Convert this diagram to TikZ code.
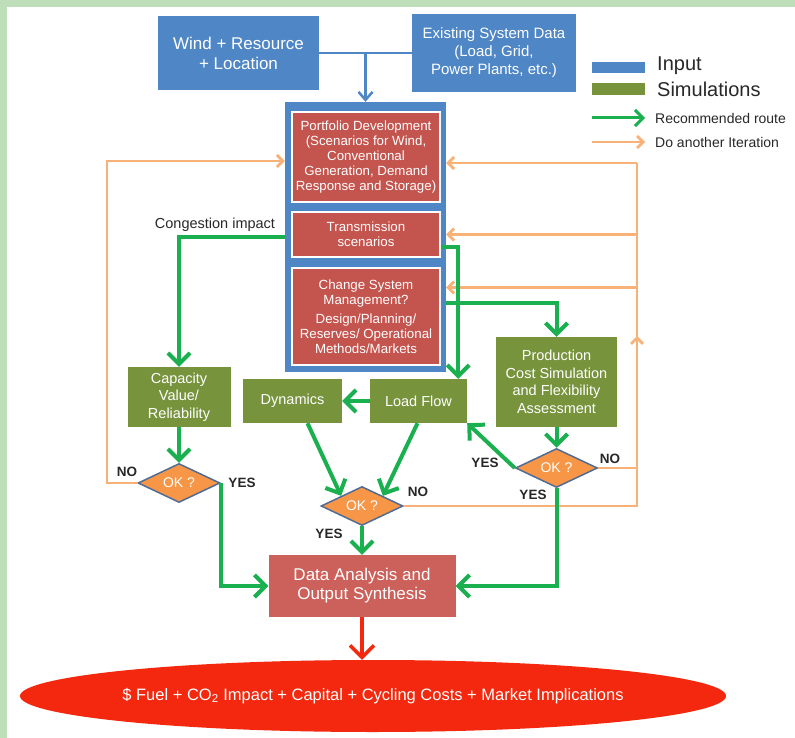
\documentclass[tikz,border=0pt]{standalone}
\usepackage{fontspec}
\setmainfont{Liberation Sans}
\usetikzlibrary{arrows.meta,shapes.geometric,calc}
\definecolor{cblue}{RGB}{79,134,198}
\definecolor{cgreenbox}{RGB}{119,147,60}
\definecolor{credbox}{RGB}{196,84,78}
\definecolor{cdata}{RGB}{204,96,90}
\definecolor{corange}{RGB}{247,150,70}
\definecolor{cgarrow}{RGB}{26,176,80}
\definecolor{coline}{RGB}{248,178,120}
\definecolor{cbg}{RGB}{190,222,186}
\definecolor{cred}{RGB}{244,40,14}
\definecolor{cdiam}{RGB}{80,108,148}
\definecolor{ctext}{RGB}{40,40,40}
\newcommand{\fsz}[2]{\fontsize{#1}{#2}\selectfont}
\begin{document}
\begin{tikzpicture}[x=1pt,y=-1pt,
  box/.style={rectangle, text=white, align=center, inner sep=0pt},
  inbox/.style={box, fill=cblue},
  simbox/.style={box, fill=cgreenbox, font=\fsz{14.5}{17.5}},
  redbox/.style={box, fill=credbox, draw=white, line width=1.5pt, font=\fsz{13.3}{15}, minimum width=148pt},
  okd/.style={diamond, aspect=2, fill=corange, draw=cdiam, line width=1.5pt, text=white, inner sep=0pt, font=\fsz{14}{16}, minimum width=82pt, minimum height=39pt},
  garrow/.style={draw=cgarrow, line width=4pt, -{Straight Barb[length=11pt,width=22pt,line width=4pt]}},
  oline/.style={draw=coline, line width=2.8pt},
  oarrow/.style={oline, -{Straight Barb[length=6pt,width=12pt,line width=2.8pt]}},
  bline/.style={draw=cblue, line width=2.5pt},
  barrow/.style={bline, -{Straight Barb[length=8pt,width=14pt,line width=2.5pt]}},
  rarrow/.style={draw=cred, line width=3.5pt, -{Straight Barb[length=12pt,width=24pt,line width=3.5pt]}},
  lbl/.style={font=\bfseries\fsz{13.5}{16}, text=ctext, inner sep=0pt},
]
\useasboundingbox (0,0) rectangle (795,738);
\fill[white] (0,0) rectangle (795,738);
\fill[cbg] (0,0) rectangle (795,7);
\fill[cbg] (0,0) rectangle (7,738);

% inputs
\node[inbox, minimum width=161pt, minimum height=74pt, font=\fsz{17}{20}] (wind) at (238.5,53) {Wind + Resource\\+ Location};
\node[inbox, minimum width=164pt, minimum height=78pt, font=\fsz{15}{18}] (exist) at (494,53) {Existing System Data\\(Load, Grid,\\Power Plants, etc.)};

% frame and red boxes
\node[fill=cblue, minimum width=161pt, minimum height=270pt, inner sep=0pt] (frame) at (365.5,237) {};
\node[redbox, minimum height=90pt] (port) at (366,157) {Portfolio Development\\(Scenarios for Wind,\\Conventional\\Generation, Demand\\Response and Storage)};
\node[redbox, minimum height=45pt] (trans) at (366,234.5) {Transmission\\scenarios};
\node[redbox, minimum height=97pt] (change) at (366,316.5) {Change System\\Management?\\[4pt]Design/Planning/\\Reserves/ Operational\\Methods/Markets};

% simulations
\node[simbox, minimum width=103pt, minimum height=60pt] (cap) at (179,397) {Capacity\\Value/\\Reliability};
\node[simbox, minimum width=99pt, minimum height=44pt] (dyn) at (292.5,401) {Dynamics};
\node[simbox, minimum width=97pt, minimum height=44pt] (lf) at (418.5,401) {Load Flow};
\node[simbox, minimum width=121pt, minimum height=90pt] (prod) at (556.5,382) {Production\\Cost Simulation\\and Flexibility\\Assessment};

% decisions
\node[okd] (d1) at (179,483) {OK ?};
\node[okd] (d2) at (362,506) {OK ?};
\node[okd] (d3) at (556.5,468) {OK ?};

% output
\node[box, fill=cdata, minimum width=187pt, minimum height=62pt, font=\fsz{17}{19}] (data) at (362,586) {Data Analysis and\\Output Synthesis};
\node[ellipse, fill=cred, minimum width=706pt, minimum height=72pt, inner sep=0pt,
  label={[text=white, font=\fsz{16.5}{19}]center:\$ Fuel + CO\textsubscript{2} Impact + Capital + Cycling Costs + Market Implications}] (out) at (373,696) {};

% blue connectors
\draw[bline] (wind.east) -- (exist.west);
\draw[barrow] (frame.north |- wind.east) -- (frame.north);

% orange iteration loops
\coordinate (oL) at (107,161);
\coordinate (oR) at (637,163);
\coordinate (oUp) at (637,336);
\coordinate (c3) at ([yshift=29pt]change.east);
\coordinate (c4) at ([yshift=13.5pt]change.east);
\draw[oarrow] (d1.west) -| (oL) -- (oL -| frame.west);
\draw[oline] (d2.east) -| (oR);
\draw[oline] (d3.east) -- (d3.east -| oR);
\draw[oarrow] (oR) -- (oR -| frame.east);
\draw[oarrow] (oR |- trans.east) -- (trans.east -| frame.east);
\draw[oarrow] (c3 -| oR) -- (c3 -| frame.east);
\draw[oarrow] ([yshift=-16pt]oUp) -- (oUp);

% green recommended route
\draw[garrow] (frame.west) -| (cap.north);
\draw[garrow] (cap.south) -- (d1.north);
\draw[garrow] (d1.east) |- (data.west);
\draw[garrow] (d3.south) |- (data.east);
\draw[garrow] (d2.south) -- (data.north);
\draw[garrow] ([yshift=-12.5pt]trans.east) -| ([xshift=-9pt]lf.north east);
\draw[garrow] (c4 -| frame.east) -| (prod.north);
\draw[garrow] (lf.west) -- (dyn.east);
\draw[garrow] ([xshift=15pt]dyn.south) -- (d2.north west);
\draw[garrow] ([xshift=-1pt]lf.south) -- (d2.north east);
\draw[garrow] (d3.west) -- (lf.south east);
\draw[garrow] (prod.south) -- (d3.north);
\draw[rarrow] (data.south) -- (data.south |- out.north);

% labels
\node[font=\fsz{14.5}{17}, text=ctext, inner sep=0pt] (cong) at (215,225) {Congestion impact};
\node[lbl] (no1) at (127,472) {NO};
\node[lbl] (yes1) at (242,483) {YES};
\node[lbl] (no2) at (418,492) {NO};
\node[lbl] (yes2) at (329,534) {YES};
\node[lbl] (yes3) at (485,463) {YES};
\node[lbl] (no3) at (610,459) {NO};
\node[lbl] (yes4) at (533,495) {YES};

% legend
\node[fill=cblue, minimum width=53pt, minimum height=11pt, inner sep=0pt] (lgB) at (618.5,67.5) {};
\node[fill=cgreenbox, minimum width=53pt, minimum height=12pt, inner sep=0pt] (lgG) at (618.5,89) {};
\node[anchor=west, font=\fsz{20}{22}, text=ctext, inner sep=0pt] (lgBt) at (657,66) {Input};
\node[anchor=west, font=\fsz{20}{22}, text=ctext, inner sep=0pt] (lgGt) at (657,89) {Simulations};
\coordinate (lgA1) at (592,118);
\coordinate (lgA2) at (645,118);
\coordinate (lgO1) at (592,142);
\coordinate (lgO2) at (645,142);
\draw[draw=cgarrow, line width=3pt, -{Straight Barb[length=8pt,width=16pt,line width=3pt]}] (lgA1) -- (lgA2);
\draw[oarrow] (lgO1) -- (lgO2);
\node[anchor=west, font=\fsz{14}{16}, text=ctext, inner sep=0pt] (lgAt) at (655,118) {Recommended route};
\node[anchor=west, font=\fsz{14}{16}, text=ctext, inner sep=0pt] (lgOt) at (655,142) {Do another Iteration};
\end{tikzpicture}
\end{document}
